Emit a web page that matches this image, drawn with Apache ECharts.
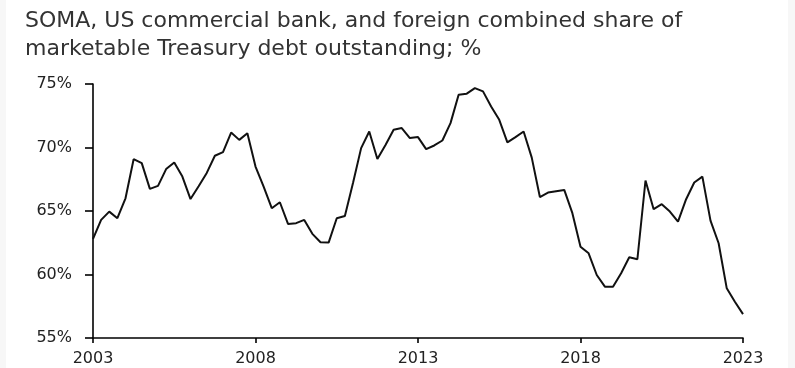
<!DOCTYPE html>
<html>
<head>
	<meta charset="utf-8"/>
	<title>Treasury debt share</title>
	<style>
		html, body { margin: 0; padding: 0; background: #f7f7f7; }
		#chart { position: absolute; left: 6px; top: 0; width: 782px; height: 368px; background: #fff; }
	</style>
</head>
<body>

	<div id="chart"></div>

	<script src="https://cdn.jsdelivr.net/npm/echarts@6/dist/echarts.min.js"></script>
	<script>

		// quarterly values, 2003 Q1 .. 2023 Q1
		var startYear = 2003;
		var shareValues = [
			62.8, 64.3, 64.95, 64.43, 66.0, 69.08, 68.77, 66.74,
			66.98, 68.3, 68.82, 67.71, 65.94, 66.95, 68.0, 69.35,
			69.64, 71.18, 70.6, 71.13, 68.5, 66.92, 65.22, 65.69,
			63.98, 64.04, 64.3, 63.2, 62.54, 62.51, 64.43, 64.61,
			67.2, 69.95, 71.26, 69.1, 70.2, 71.4, 71.53, 70.74,
			70.82, 69.87, 70.16, 70.55, 71.92, 74.16, 74.24, 74.68,
			74.42, 73.23, 72.18, 70.4, 70.82, 71.26, 69.2, 66.1,
			66.45, 66.56, 66.66, 64.83, 62.19, 61.67, 59.96, 59.04,
			59.04, 60.1, 61.36, 61.2, 67.4, 65.14, 65.54, 64.96,
			64.16, 65.93, 67.24, 67.71, 64.24, 62.46, 58.91, 57.86,
			56.88
		];
		var yearTicks = [2003, 2008, 2013, 2018, 2023];
		var pctTicks = [55, 60, 65, 70, 75];

		var points = [];
		for (var i = 0; i < shareValues.length; i++) {
			points.push([startYear + i / 4, shareValues[i]]);
		}

		var myChart = echarts.init(document.getElementById('chart'));

		var option = {
			backgroundColor: '#fff',
			animation: false,
			title: {
				text: 'SOMA, US commercial bank, and foreign combined share of\nmarketable Treasury debt outstanding; %',
				left: 14,
				top: 2,
				textStyle: {
					fontFamily: 'DejaVu Sans',
					fontSize: 22,
					fontWeight: 'normal',
					color: '#333',
					lineHeight: 28
				}
			},
			grid: {
				left: 87,
				right: 45,
				top: 84,
				bottom: 30
			},
			xAxis: {
				type: 'value',
				min: yearTicks[0],
				max: yearTicks[yearTicks.length - 1],
				interval: 5,
				splitLine: { show: false },
				axisLine: { lineStyle: { color: '#000', width: 1.6 } },
				axisTick: { show: true, length: 5, lineStyle: { color: '#000', width: 1.6 } },
				axisLabel: {
					margin: 13,
					fontFamily: 'DejaVu Sans',
					fontSize: 16,
					color: '#222',
					formatter: function (v) { return String(v); }
				}
			},
			yAxis: {
				type: 'value',
				min: pctTicks[0],
				max: pctTicks[pctTicks.length - 1],
				interval: 5,
				splitLine: { show: false },
				axisLine: { show: true, lineStyle: { color: '#000', width: 1.6 } },
				axisTick: { show: true, length: 8, lineStyle: { color: '#000', width: 1.6 } },
				axisLabel: {
					margin: 21,
					fontFamily: 'DejaVu Sans',
					fontSize: 16,
					color: '#222',
					formatter: '{value}%'
				}
			},
			series: [
				{
					type: 'line',
					data: points,
					showSymbol: false,
					lineStyle: { color: '#111', width: 2 }
				}
			]
		};

		myChart.setOption(option);

	</script>
</body>
</html>
